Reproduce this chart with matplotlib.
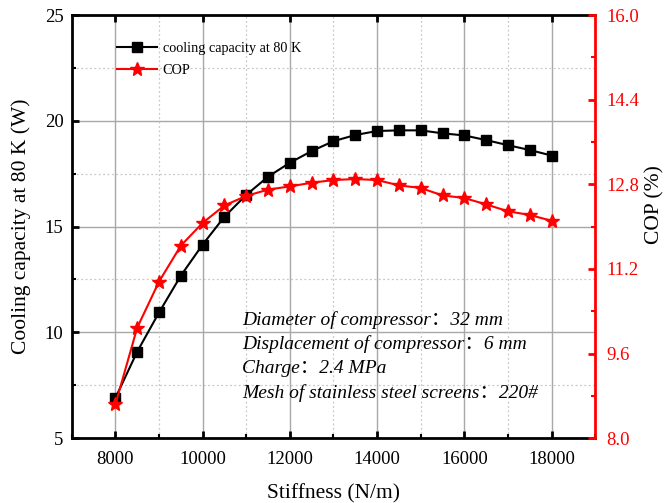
import numpy as np
import matplotlib.pyplot as plt
from matplotlib.ticker import MultipleLocator

plt.rcParams['font.family'] = ['Liberation Serif', 'Noto Sans CJK SC']

# data
stiffness = np.arange(8000, 18001, 500)
cooling = [6.9, 9.09, 10.94, 12.68, 14.15, 15.47, 16.5, 17.36, 18.02, 18.57, 19.04,
           19.33, 19.52, 19.55, 19.55, 19.41, 19.31, 19.09, 18.85, 18.62, 18.36]
cop = [8.64, 10.09, 10.96, 11.64, 12.07, 12.40, 12.58, 12.70, 12.76, 12.83, 12.88,
       12.90, 12.88, 12.78, 12.73, 12.59, 12.54, 12.42, 12.29, 12.22, 12.11]

notes = ["Diameter of compressor：32 mm",
         "Displacement of compressor：6 mm",
         "Charge：2.4 MPa",
         "Mesh of stainless steel screens：220#"]

fig = plt.figure(figsize=(6.65, 5.03), dpi=100)
ax = fig.add_axes([0.108, 0.129, 0.787, 0.841])
ax2 = ax.twinx()

ax.set_xlim(7000, 19000)
ax.set_ylim(5, 25)
ax2.set_ylim(8.0, 16.0)

ax.xaxis.set_major_locator(MultipleLocator(2000))
ax.xaxis.set_minor_locator(MultipleLocator(1000))
ax.yaxis.set_major_locator(MultipleLocator(5))
ax.yaxis.set_minor_locator(MultipleLocator(2.5))
ax2.yaxis.set_major_locator(MultipleLocator(1.6))
ax2.yaxis.set_minor_locator(MultipleLocator(0.8))
ax2.yaxis.set_major_formatter(plt.FormatStrFormatter('%.1f'))

# grid: solid at majors, dotted at minors
for v in [10, 15, 20]:
    ax.axhline(v, color='#a8a8a8', lw=1, zorder=0)
for v in [7.5, 12.5, 17.5, 22.5]:
    ax.axhline(v, color='#c8c8c8', lw=0.9, ls=(0, (1.5, 2)), zorder=0)
for v in range(8000, 18001, 2000):
    ax.axvline(v, color='#a8a8a8', lw=1, zorder=0)
for v in range(9000, 18001, 2000):
    ax.axvline(v, color='#c8c8c8', lw=0.9, ls=(0, (1.5, 2)), zorder=0)

l1, = ax.plot(stiffness, cooling, color='black', lw=1.5, marker='s', ms=7,
              label='cooling capacity at 80 K')
l2, = ax2.plot(stiffness, cop, color='red', lw=1.5, marker='*', ms=10,
               label='COP')

ax.tick_params(axis='both', which='major', direction='in', length=5, width=2,
               labelsize=13.5, top=True)
ax.tick_params(axis='both', which='minor', direction='in', length=3, width=1.5)
ax.tick_params(axis='x', pad=9)
ax.tick_params(axis='y', pad=6)
ax2.tick_params(axis='y', which='major', direction='in', length=5, width=2,
                labelsize=13.5, colors='red', pad=8)
ax2.tick_params(axis='y', which='minor', direction='in', length=3, width=1.5,
                colors='red')

for s in ['left', 'top', 'bottom']:
    ax.spines[s].set_linewidth(2)
for s in ['left', 'top', 'bottom']:
    ax2.spines[s].set_visible(False)
ax.spines['right'].set_visible(False)
ax2.spines['right'].set_color('red')
ax2.spines['right'].set_linewidth(2)

ax.set_xlabel('Stiffness (N/m)', fontsize=15.5, labelpad=12)
ax.set_ylabel('Cooling capacity at 80 K (W)', fontsize=15.5, labelpad=10)
ax2.set_ylabel('COP (%)', fontsize=15.5)
ax2.yaxis.set_label_coords(1.096, 0.553)

ax.legend(handles=[l1, l2], loc='upper left', bbox_to_anchor=(0.075, 0.95),
          frameon=False, fontsize=10.3, handlelength=2.8, handletextpad=0.4,
          labelspacing=0.6, borderaxespad=0)

for i, t in enumerate(notes):
    ax.text(0.325, 0.279 - i * 0.0577, t, transform=ax.transAxes, fontsize=14,
            style='italic', va='center', ha='left')

fig.savefig('out.png', dpi=100)
